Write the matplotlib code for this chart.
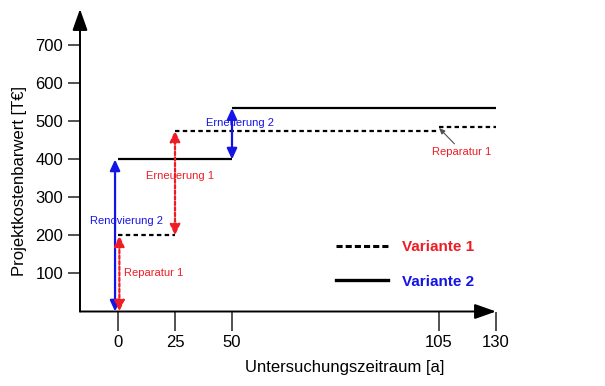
import numpy as np
import matplotlib.pyplot as plt
from matplotlib.lines import Line2D

plt.rcParams['font.family'] = ['Liberation Sans', 'DejaVu Sans']

# Variante 1 (gestrichelt): Abschnitte [start, ende, wert]
v1_start = [0, 25, 105]
v1_end = [25, 105, 130]
v1_value = [200, 476, 486]

# Variante 2 (durchgezogen)
v2_start = [0, 50]
v2_end = [50, 130]
v2_value = [400, 535]

x_ticks = [0, 25, 50, 105, 130]
y_ticks = [100, 200, 300, 400, 500, 600, 700]

RED = '#ee1c25'
BLUE = '#1414e6'

# nichtlineare Zeitachse (schematisch)
x_anchor = [-16.7, 0, 25, 50, 105, 130]
p_anchor = [80, 118, 175, 232, 439, 496]


def fwd(x):
    return np.interp(x, x_anchor, p_anchor)


def inv(p):
    return np.interp(p, p_anchor, x_anchor)


fig = plt.figure(figsize=(6.05, 3.86), dpi=100)
ax = fig.add_axes([80/605, (386-311.5)/386, 416/605, 302.5/386])
ax.set_xscale('function', functions=(fwd, inv))
ax.set_xlim(-16.7, 130)
ax.set_ylim(0, 796)

for s in ax.spines.values():
    s.set_visible(False)

# Achsen mit Pfeilspitzen
akw = dict(arrowstyle='-|>,head_length=1.3,head_width=0.46', lw=1.4,
           color='k', shrinkA=0, shrinkB=0, mutation_scale=10)
ax.annotate('', xy=(1, 0), xytext=(0, 0), xycoords='axes fraction', arrowprops=akw)
ax.annotate('', xy=(0, 1), xytext=(0, 0), xycoords='axes fraction', arrowprops=akw)

ax.set_xticks(x_ticks)
ax.set_xticklabels([str(v) for v in x_ticks])
ax.set_yticks(y_ticks)
ax.set_yticklabels([str(v) for v in y_ticks])
ax.tick_params(axis='x', direction='out', length=13.5, width=1.1, color='#222222',
               labelsize=12, pad=3.5)
ax.tick_params(axis='y', direction='out', length=8.5, width=1.1, color='#222222',
               labelsize=12, pad=3.5)
ax.minorticks_off()

ax.set_xlabel('Untersuchungszeitraum [a]', fontsize=12)
ax.xaxis.set_label_coords(0.637, -0.16)
ax.set_ylabel('Projektkostenbarwert [T€]', fontsize=12)
ax.yaxis.set_label_coords(-0.128, 0.43)

# Stufenlinien
ax.hlines(v1_value, v1_start, v1_end, colors='k', lw=1.6,
          linestyles=[(0, (2, 1.5))])
ax.hlines(v2_value, v2_start, v2_end, colors='k', lw=1.6)

# Doppelpfeile
blue_kw = dict(arrowstyle='<|-|>,head_length=0.65,head_width=0.3', lw=1.6,
               color=BLUE, shrinkA=0, shrinkB=0, mutation_scale=10)
red_kw = dict(arrowstyle='<|-|>,head_length=0.65,head_width=0.3', lw=1.6,
              color=RED, shrinkA=0, shrinkB=0, mutation_scale=10,
              linestyle=(0, (1.5, 1)))
ax.annotate('', xy=(-1.3, v2_value[0]), xytext=(-1.3, 0), arrowprops=blue_kw)
ax.annotate('', xy=(0.6, v1_value[0]), xytext=(0.6, 0), arrowprops=red_kw)
ax.annotate('', xy=(25, v1_value[1]), xytext=(25, v1_value[0]), arrowprops=red_kw)
ax.annotate('', xy=(50, v2_value[1]), xytext=(50, v2_value[0]), arrowprops=blue_kw)

# Beschriftungen
tkw = dict(fontsize=8, ha='center', va='center')
ax.text(3.9, 238, 'Renovierung 2', color=BLUE, **tkw)
ax.text(15.8, 102, 'Reparatur 1', color=RED, **tkw)
ax.text(27.1, 357, 'Erneuerung 1', color=RED, **tkw)
ax.text(52, 497, 'Erneuerung 2', color=BLUE, **tkw)
ax.annotate('Reparatur 1', xy=(105, 483), xytext=(16.5, -17), textcoords='offset points',
            color=RED, fontsize=8, ha='center', va='center',
            arrowprops=dict(arrowstyle='-|>,head_length=0.35,head_width=0.15',
                            color='#505050', lw=0.8, shrinkA=0, shrinkB=0,
                            mutation_scale=10))

# Legende
handles = [Line2D([], [], color='k', lw=2.2, linestyle=(0, (2, 1))),
           Line2D([], [], color='k', lw=2.4)]
leg = ax.legend(handles, ['Variante 1', 'Variante 2'], loc='upper left',
                bbox_to_anchor=(0.615, 0.236), frameon=False, borderpad=0,
                borderaxespad=0, handlelength=3.4, handletextpad=0.9,
                labelspacing=1.34, prop={'weight': 'bold', 'size': 11})
for t, c in zip(leg.get_texts(), [RED, BLUE]):
    t.set_color(c)

fig.savefig('out.png', dpi=100)
